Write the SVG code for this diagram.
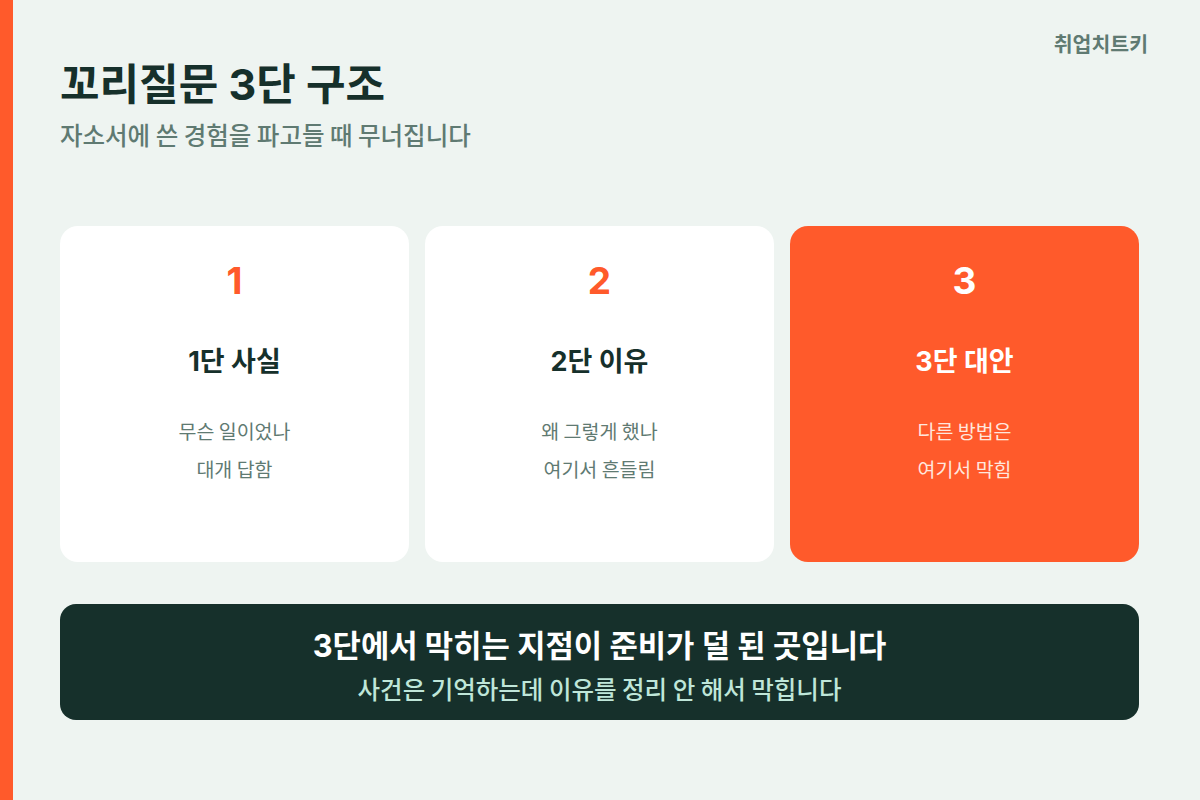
<svg xmlns="http://www.w3.org/2000/svg" width="1200" height="800" viewBox="0 0 1200 800">
<style>
text{font-family:"Inter","Noto Sans CJK KR",sans-serif}
.ko{font-family:"Noto Sans CJK KR","Noto Sans",sans-serif}
.card{fill:#FFFFFF}
.num{font-size:37px;font-weight:700;fill:#FF5A2B;text-anchor:middle}
.ttl{font-size:27px;font-weight:700;fill:#16302B;text-anchor:middle}
.ln{font-size:19.5px;font-weight:400;fill:#5F7A72;text-anchor:middle}
.hot .num,.hot .ttl{fill:#FFFFFF}
.hot .ln{fill:#FFE6DD}
</style>
<rect width="1200" height="800" fill="#EEF4F1"/>
<rect x="0" y="0" width="13" height="800" fill="#FF5A2B"/>
<g id="header">
<text x="60" y="100" style="font-size:43px;font-weight:700;fill:#16302B">꼬리질문 3단 구조</text>
<text x="60" y="145" class="ko" style="font-size:24.5px;font-weight:500;fill:#5F7A72">자소서에 쓴 경험을 파고들 때 무너집니다</text>
<text x="1148" y="52" class="ko" style="font-size:20.5px;font-weight:700;fill:#5F7A72;text-anchor:end">취업치트키</text>
</g>
<g id="connectors"></g>
<g id="card1">
<rect class="card" x="60" y="226" width="349" height="336" rx="18"/>
<text class="num" x="234.5" y="294">1</text>
<text class="ttl" x="234.5" y="371">1단 사실</text>
<text class="ln ko" x="234.5" y="439">무슨 일이었나</text>
<text class="ln ko" x="234.5" y="477">대개 답함</text>
</g>
<g id="card2">
<rect class="card" x="425" y="226" width="349" height="336" rx="18"/>
<text class="num" x="599.5" y="294">2</text>
<text class="ttl" x="599.5" y="371">2단 이유</text>
<text class="ln ko" x="599.5" y="439">왜 그렇게 했나</text>
<text class="ln ko" x="599.5" y="477">여기서 흔들림</text>
</g>
<g id="card3" class="hot">
<rect x="790" y="226" width="349" height="336" rx="18" fill="#FF5A2B"/>
<text class="num" x="964.5" y="294">3</text>
<text class="ttl" x="964.5" y="371">3단 대안</text>
<text class="ln ko" x="964.5" y="439">다른 방법은</text>
<text class="ln ko" x="964.5" y="477">여기서 막힘</text>
</g>
<g id="summary">
<rect x="60" y="604" width="1079" height="116" rx="16" fill="#16302B"/>
<text x="599.5" y="657" style="font-size:30.8px;font-weight:700;fill:#FFFFFF;text-anchor:middle">3단에서 막히는 지점이 준비가 덜 된 곳입니다</text>
<text x="599.5" y="699" class="ko" style="font-size:24.5px;font-weight:500;fill:#BFE6D9;text-anchor:middle">사건은 기억하는데 이유를 정리 안 해서 막힙니다</text>
</g>
</svg>
